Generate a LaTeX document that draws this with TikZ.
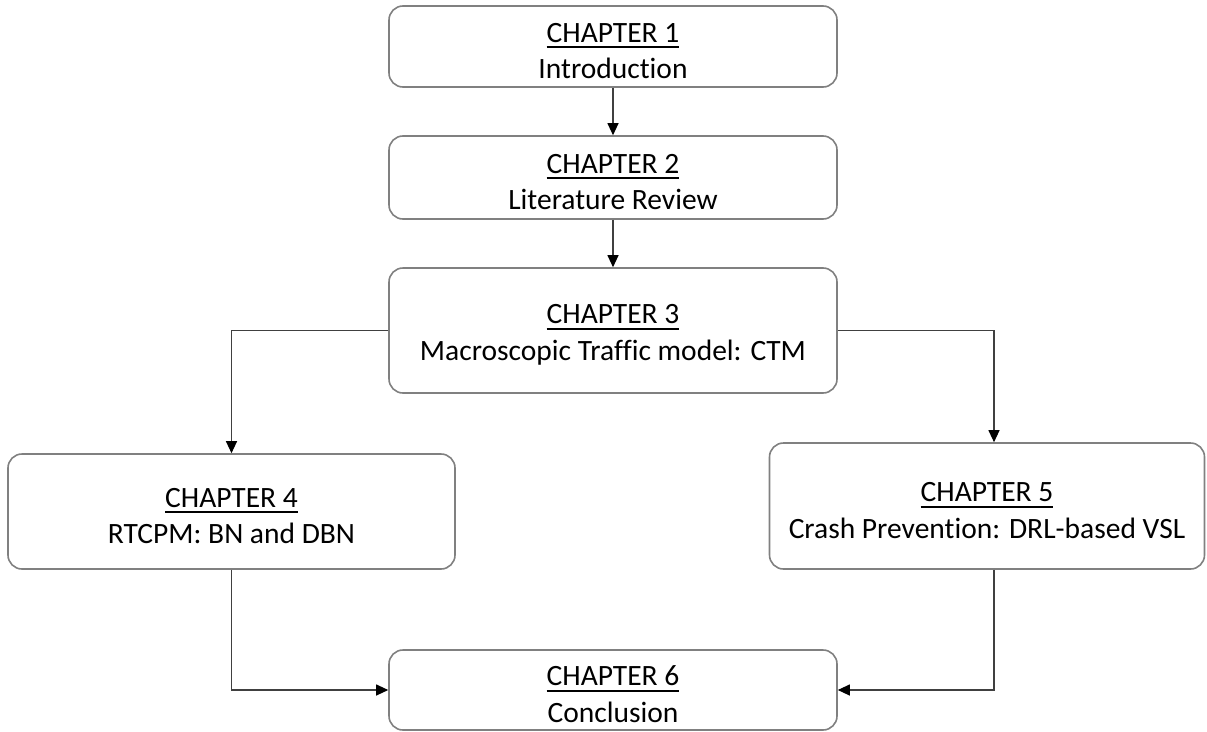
\documentclass[tikz,border=0pt]{standalone}
\usepackage{fontspec}
\setmainfont[Ligatures={NoCommon}]{Carlito}
\usetikzlibrary{arrows.meta}
\definecolor{boxgray}{RGB}{128,128,128}
\definecolor{linegray}{RGB}{64,64,64}
% heading underlined with a slightly heavier, lower rule; the strut
% gives the first line some extra room above it
\newcommand\chapul[1]{\rule{0pt}{28pt}\setbox0\hbox{#1}\rlap{\rule[-6pt]{\wd0}{2pt}}\box0}
\begin{document}
\begin{tikzpicture}[x=1pt,y=-1pt,
  chapbox/.style={draw=boxgray, line width=1.6pt, rounded corners=14pt,
    align=center, inner sep=0pt, text=black,
    font=\fontsize{29.5}{36.5}\selectfont},
  link/.style={draw=linegray, line width=1.1pt,
    -{Triangle[length=12pt,width=11pt,color=black]}}
]
\useasboundingbox (0,0) rectangle (1207,731);

% chapter boxes
\node[chapbox, minimum width=448pt, minimum height=81pt] (n1) at (613,46.5)
  {\chapul{CHAPTER 1}\\Introduction};
\node[chapbox, minimum width=448pt, minimum height=83pt] (n2) at (613,177.5)
  {\chapul{CHAPTER 2}\\Literature Review};
\node[chapbox, minimum width=448pt, minimum height=125pt] (n3) at (613,330.5)
  {\chapul{CHAPTER 3}\\Macroscopic Traffic model: CTM};
\node[chapbox, minimum width=447pt, minimum height=115pt] (n4) at (231.5,511.5)
  {\chapul{CHAPTER 4}\\RTCPM: BN and DBN};
\node[chapbox, minimum width=435pt, minimum height=126pt] (n5) at (987,506)
  {\chapul{CHAPTER 5}\\Crash Prevention: DRL-based VSL};
\node[chapbox, minimum width=448pt, minimum height=80pt] (n6) at (613,690)
  {\chapul{CHAPTER 6}\\Conclusion};

% connectors
\draw[link] (n1.south) -- (n2.north);
\draw[link] (n2.south) -- (n3.north);
\draw[link] (n3.west) -| (n4.north);
\draw[link] (n3.east) -| ([xshift=7pt]n5.north);
\draw[link] (n4.south) |- (n6.west);
\draw[link] ([xshift=7pt]n5.south) |- (n6.east);
\end{tikzpicture}
\end{document}
